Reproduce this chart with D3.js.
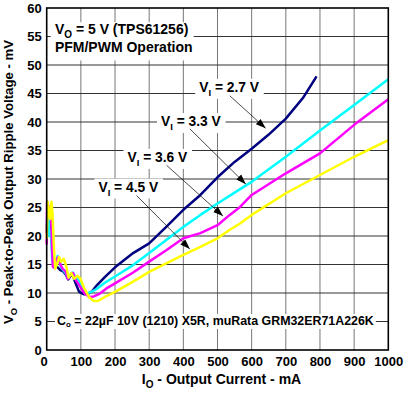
<!DOCTYPE html>
<html>
<head>
<meta charset="utf-8">
<script src="https://cdn.jsdelivr.net/npm/d3@7"></script>
<style>
  body { margin: 0; background: #fff; }
  text { font-family: "Liberation Sans", Arial, sans-serif; font-weight: bold; fill: #000; }
</style>
</head>
<body>
<div class="chart"></div>
<script>
// output current (mA) / ripple (mV) pairs
var vi27 = [[0,20.5],[2,23.5],[5,22.5],[9,21],[13,22],[17,16],[21,14.8],[26,14.8],[32,14.5],[40,14],[48,13.8],[56,13.2],[63,12.4],[70,13],[76,13.2],[84,11.8],[95,10.2],[108,9.8],[120,9.8],[133,10.3],[146,11.3],[170,12.8],[200,14.5],[253,17],[300,18.7],[350,21.6],[400,24.6],[450,27.2],[500,30.3],[550,33],[600,35.3],[650,37.8],[700,40.6],[750,44.2],[790,48]];
var vi33 = [[0,21.5],[2,24],[5,23],[8,20],[12,21],[16,16],[20,14.5],[26,15],[32,16.5],[36,16],[42,14.5],[48,14],[55,13.5],[62,12.8],[70,13.3],[76,13.6],[84,12.8],[92,12.3],[104,10.8],[117,9.9],[131,10.2],[146,10.7],[170,11.8],[200,12.9],[253,14.9],[300,17],[350,19.3],[400,21.6],[450,23.7],[500,25.7],[550,27.6],[600,29.5],[700,33.9],[800,38.5],[900,43],[1000,47.5]];
var vi36 = [[0,18.5],[1,26],[4,25.5],[8,24],[13,23],[18,14.6],[23,14.4],[28,15.8],[34,16.3],[40,15],[47,14.2],[55,13.8],[62,12.5],[70,13.2],[77,13.5],[85,12.3],[96,11.3],[110,10],[125,9.3],[138,9.4],[156,9.9],[175,10.8],[200,11.7],[253,13.6],[300,15.5],[350,17.5],[400,19.6],[450,20.5],[500,21.9],[536,23.7],[566,25.1],[600,27.2],[700,31],[800,34.5],[900,39.5],[1000,44]];
var vi45 = [[0,19.5],[3,26],[7,24],[10,23],[14,26],[17,24],[21,18],[25,14.3],[30,15],[36,16.3],[42,15.5],[50,16],[58,14.5],[64,12.7],[72,13.5],[80,12.5],[90,13],[98,12.6],[110,10.8],[125,9.2],[138,8.6],[150,8.6],[170,9.3],[200,10.2],[253,12],[300,13.7],[350,15.2],[400,16.7],[450,18.1],[500,19.6],[536,21.1],[566,22.2],[600,23.7],[700,27.5],[800,30.7],[900,33.9],[1000,36.8]];

var seriesData = [vi27, vi33, vi36, vi45];
var seriesNames = ["2.7", "3.3", "3.6", "4.5"];
var seriesColors = ["#000080", "#00FFFF", "#FF00FF", "#FFFF00"];

var xTicks = [0, 100, 200, 300, 400, 500, 600, 700, 800, 900, 1000];
var yTicks = [0, 5, 10, 15, 20, 25, 30, 35, 40, 45, 50, 55, 60];

// label text position and arrow (from -> to), in mA / mV
var labelAt = [[534, 45.3], [422, 39.3], [324, 33], [239, 27.8]];
var arrowFrom = [[536, 44.6], [419, 38.8], [351, 32.4], [263, 27.1]];
var arrowTo = [[641, 38.9], [583, 29.1], [516, 23.5], [419, 17.7]];

var svgWidth = 406;
var svgHeight = 397;
var plot = { left: 46.7, right: 388.3, top: 8, bottom: 350 };

var svg = d3.select(".chart")
  .append("svg")
  .attr("width", svgWidth)
  .attr("height", svgHeight);

var x = d3.scaleLinear().domain([0, 1000]).range([plot.left, plot.right]);
var y = d3.scaleLinear().domain([0, 60]).range([plot.bottom, plot.top]);

// grid
svg.selectAll(".vgrid")
  .data(xTicks.slice(1, -1))
  .enter()
  .append("line")
  .attr("x1", d => x(d)).attr("x2", d => x(d))
  .attr("y1", plot.top).attr("y2", plot.bottom)
  .attr("stroke", "#777").attr("stroke-width", 1);

svg.selectAll(".hgrid")
  .data(yTicks.slice(1, -1))
  .enter()
  .append("line")
  .attr("x1", plot.left).attr("x2", plot.right)
  .attr("y1", d => y(d)).attr("y2", d => y(d))
  .attr("stroke", "#333").attr("stroke-width", 1);

// white box helper for text that hides the grid behind it
function boxed(textSel, padX, padY) {
  var b = textSel.node().getBBox();
  svg.insert("rect", ".curve")
    .attr("x", b.x - padX).attr("y", b.y - padY)
    .attr("width", b.width + 2 * padX).attr("height", b.height + 2 * padY)
    .attr("fill", "#fff");
}

var curveGroup = svg.append("g").attr("class", "curve");

var line = d3.line()
  .x(d => x(d[0]))
  .y(d => y(d[1]));

curveGroup.selectAll("path")
  .data(seriesData)
  .enter()
  .append("path")
  .attr("d", line)
  .attr("fill", "none")
  .attr("stroke", (d, i) => seriesColors[i])
  .attr("stroke-width", 2.5)
  .attr("stroke-linejoin", "round");

// arrows
svg.append("defs").append("marker")
  .attr("id", "head")
  .attr("viewBox", "0 0 10 10")
  .attr("refX", 10).attr("refY", 5)
  .attr("markerWidth", 10).attr("markerHeight", 10)
  .attr("markerUnits", "userSpaceOnUse")
  .attr("orient", "auto")
  .append("path")
  .attr("d", "M0,1.5 L10,5 L0,8.5 Z")
  .attr("fill", "#000");

svg.selectAll(".arrow")
  .data(arrowFrom)
  .enter()
  .append("line")
  .attr("x1", d => x(d[0])).attr("y1", d => y(d[1]))
  .attr("x2", (d, i) => x(arrowTo[i][0])).attr("y2", (d, i) => y(arrowTo[i][1]))
  .attr("stroke", "#000").attr("stroke-width", 0.7)
  .attr("marker-end", "url(#head)");

// VI labels
seriesNames.forEach(function (name, i) {
  var t = svg.append("text")
    .attr("x", x(labelAt[i][0])).attr("y", y(labelAt[i][1]))
    .attr("text-anchor", "middle")
    .style("font-size", "13.8px");
  t.append("tspan").text("V");
  t.append("tspan").attr("dy", 4).style("font-size", "9.5px").text("I");
  t.append("tspan").attr("dy", -4).text(" = " + name + " V");
  boxed(t, 4, 1);
});

// top left note
var note1 = svg.append("text")
  .attr("x", x(24)).attr("y", y(55.4))
  .style("font-size", "14px");
note1.append("tspan").text("V");
note1.append("tspan").attr("dy", 4).style("font-size", "10px").text("O");
note1.append("tspan").attr("dy", -4).text(" = 5 V (TPS61256)");
var note2 = svg.append("text")
  .attr("x", x(24)).attr("y", y(52.3))
  .style("font-size", "14px")
  .text("PFM/PWM Operation");
svg.insert("rect", ".curve")
  .attr("x", plot.left + 4).attr("y", y(57.5))
  .attr("width", 143).attr("height", y(50.8) - y(57.5))
  .attr("fill", "#fff");

// capacitor note
var capNote = svg.append("text")
  .attr("x", x(494)).attr("y", y(4.4))
  .attr("text-anchor", "middle")
  .style("font-size", "12.4px");
capNote.append("tspan").text("C");
capNote.append("tspan").attr("dy", 2).style("font-size", "8px").text("o");
capNote.append("tspan").attr("dy", -2).text(" = 22\u00B5F 10V (1210) X5R, muRata GRM32ER71A226K");
boxed(capNote, 2, 0);

// frame
svg.append("rect")
  .attr("x", plot.left).attr("y", plot.top)
  .attr("width", plot.right - plot.left).attr("height", plot.bottom - plot.top)
  .attr("fill", "none").attr("stroke", "#000").attr("stroke-width", 1.6);

// axes
var leftAxis = d3.axisLeft(y).tickValues(yTicks).tickSize(0).tickPadding(5).tickFormat(d3.format("d"));
var bottomAxis = d3.axisBottom(x).tickValues(xTicks).tickSize(0).tickPadding(7).tickFormat(d3.format("d"));

svg.append("g")
  .attr("transform", `translate(${plot.left}, 0)`)
  .call(leftAxis)
  .call(g => g.select(".domain").remove())
  .selectAll("text")
  .style("font-size", "13px")
  .style("font-family", "'Liberation Sans', Arial, sans-serif")
  .attr("fill", "#000");

svg.append("g")
  .attr("transform", `translate(0, ${plot.bottom})`)
  .call(bottomAxis)
  .call(g => g.select(".domain").remove())
  .selectAll("text")
  .style("font-size", "13px")
  .style("font-family", "'Liberation Sans', Arial, sans-serif")
  .attr("fill", "#000")
  .attr("dx", d => d === 0 ? -3 : 0);

// axis titles
var xTitle = svg.append("text")
  .attr("x", (plot.left + plot.right) / 2 + 4).attr("y", 384)
  .attr("text-anchor", "middle")
  .style("font-size", "14px");
xTitle.append("tspan").text("I");
xTitle.append("tspan").attr("dy", 4).style("font-size", "10px").text("O");
xTitle.append("tspan").attr("dy", -4).text(" - Output Current - mA");

var yTitle = svg.append("text")
  .attr("transform", "translate(12.5, 182) rotate(-90)")
  .attr("text-anchor", "middle")
  .style("font-size", "13.2px");
yTitle.append("tspan").text("V");
yTitle.append("tspan").attr("dy", 4).style("font-size", "9.5px").text("O");
yTitle.append("tspan").attr("dy", -4).text(" - Peak-to-Peak Output Ripple Voltage - mV");
</script>
</body>
</html>
